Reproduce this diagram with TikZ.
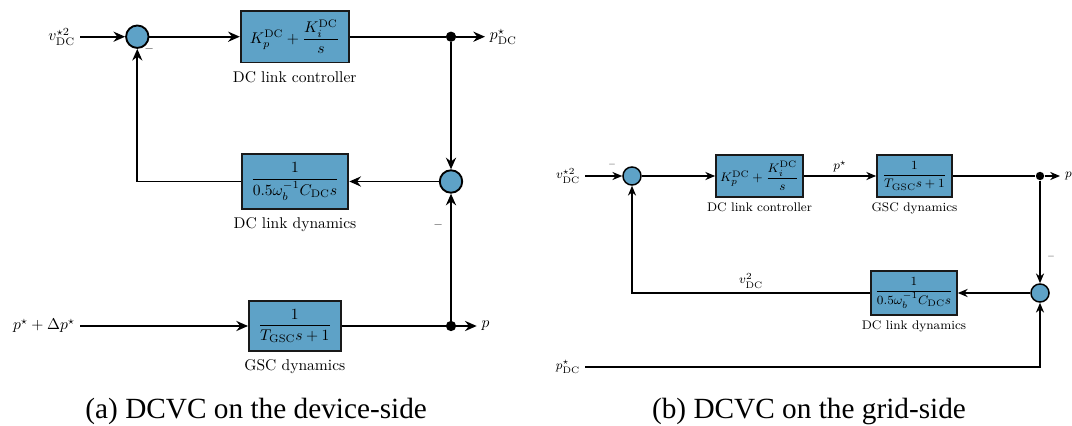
\documentclass[tikz,border=0pt]{standalone}
\usepackage{fontspec}
\usepackage{amsmath}
\newfontfamily\capfont{Liberation Serif}
\usetikzlibrary{arrows.meta}
\definecolor{blkfill}{RGB}{94,162,199}
\definecolor{blkedge}{RGB}{25,25,25}
\begin{document}
\begin{tikzpicture}[x=0.642pt, y=-0.642pt,
  blk/.style={draw=blkedge, fill=blkfill, line width=1.2pt, inner sep=1pt},
  sumc/.style={circle, draw=black, fill=blkfill, line width=1.2pt, inner sep=0pt, minimum size=14.4pt},
  junc/.style={circle, fill=black, inner sep=0pt, minimum size=6.6pt},
  ln/.style={line width=1.25pt},
  sig/.style={ln, -{Stealth[length=7.5pt, width=6.5pt, inset=2.5pt]}},
  lbl/.style={inner sep=3pt, font=\fontsize{10}{12}\selectfont},
  sub/.style={anchor=north, inner sep=0pt, yshift=-4.8pt, font=\fontsize{10}{12}\selectfont},
  mns/.style={text=black!75, inner sep=0pt, font=\scriptsize},
  blkR/.style={blk, line width=1.05pt, font=\footnotesize},
  sumR/.style={sumc, minimum size=11.6pt, line width=0.95pt},
  juncR/.style={junc, minimum size=5.4pt},
  lnR/.style={line width=0.9pt},
  sigR/.style={lnR, -{Stealth[length=6.3pt, width=5.2pt, inset=2pt]}},
  lblR/.style={inner sep=3pt, font=\footnotesize},
  subR/.style={anchor=north, inner sep=0pt, yshift=-2.8pt, font=\footnotesize},
  mnsR/.style={text=black!75, inner sep=0pt, font=\tiny},
  capt/.style={anchor=base, inner sep=0pt, font=\capfont\fontsize{18.8}{22}\selectfont}
]
\useasboundingbox (0,0) rectangle (1072,425);

% ---------------- (a) device-side ----------------
\node[lbl, anchor=east] (vin) at (80,36.7) {$v_{\mathrm{DC}}^{\star 2}$};
\node[sumc] (s1) at (137.3,36.7) {};
\node[blk, minimum width=69.3pt, minimum height=33.1pt] (c1) at (294.7,36.7)
  {$K_p^{\mathrm{DC}}+\dfrac{K_i^{\mathrm{DC}}}{s}$};
\node[sub] (c1l) at (c1.south) {DC link controller};
\node[junc] (d1) at (451,36.7) {};
\node[lbl, anchor=west] (pdc) at (485,36.7) {$p_{\mathrm{DC}}^{\star}$};

\node[sumc] (s2) at (451,181.5) {};
\node[blk, minimum width=68.5pt, minimum height=34.9pt] (g1) at (295,181.5)
  {$\dfrac{1}{0.5\omega_b^{-1}C_{\mathrm{DC}}s}$};
\node[sub] (g1l) at (g1.south) {DC link dynamics};

\node[lbl, anchor=east] (pin) at (80,326) {$p^{\star}+\Delta p^{\star}$};
\node[blk, minimum width=58.9pt, minimum height=32.1pt] (gsc1) at (294.8,326)
  {$\dfrac{1}{T_{\mathrm{GSC}}s+1}$};
\node[sub] (gsc1l) at (gsc1.south) {GSC dynamics};
\node[junc] (d2) at (451,326) {};
\node[lbl, anchor=west] (pout) at (476.7,326) {$p$};

\node[mns] (m1) at (149.3,48.3) {$-$};
\node[mns] (m2) at (438.3,225) {$-$};

\draw[sig] (vin) -- (s1);
\draw[sig] (s1) -- (c1);
\draw[ln] (c1) -- (d1);
\draw[sig] (d1) -- (pdc);
\draw[sig] (d1) -- (s2);
\draw[sig] (s2) -- (g1);
\draw[sig] (g1.west) -| (s1.south);
\draw[sig] (pin) -- (gsc1);
\draw[ln] (gsc1) -- (d2);
\draw[sig] (d2) -- (pout);
\draw[sig] (d2) -- (s2);

\node[capt] (capa) at (256.2,418.3) {(a) DCVC on the device-side};

% ---------------- (b) grid-side ----------------
\node[lblR, anchor=east] (vin2) at (585,176) {$v_{\mathrm{DC}}^{\star 2}$};
\node[sumR] (s3) at (632,176) {};
\node[blkR, minimum width=55.9pt, minimum height=27pt] (c2) at (759.5,176)
  {$K_p^{\mathrm{DC}}+\dfrac{K_i^{\mathrm{DC}}}{s}$};
\node[subR] (c2l) at (c2.south) {DC link controller};
\node[blkR, minimum width=48.2pt, minimum height=27pt] (gsc2) at (914.5,176)
  {$\dfrac{1}{T_{\mathrm{GSC}}s+1}$};
\node[subR] (gsc2l) at (gsc2.south) {GSC dynamics};
\node[juncR] (d3) at (1040,176) {};
\node[lblR, anchor=west] (pout2) at (1060,176) {$p$};

\node[sumR] (s4) at (1040,293) {};
\node[blkR, minimum width=55.2pt, minimum height=28.2pt] (dyn2) at (914,293)
  {$\dfrac{1}{0.5\omega_b^{-1}C_{\mathrm{DC}}s}$};
\node[subR] (dyn2l) at (dyn2.south) {DC link dynamics};

\node[lblR, anchor=east] (pdc2) at (585,367) {$p_{\mathrm{DC}}^{\star}$};

\node[mnsR] (m3) at (612,165) {$-$};
\node[mnsR] (m4) at (1051,257) {$-$};

\draw[sigR] (vin2) -- (s3);
\draw[sigR] (s3) -- (c2);
\draw[sigR] (c2) -- node[above, inner sep=2pt, font=\footnotesize] (pst) {$p^{\star}$} (gsc2);
\draw[lnR] (gsc2) -- (d3);
\draw[sigR] (d3) -- (pout2);
\draw[sigR] (d3) -- (s4);
\draw[sigR] (s4) -- (dyn2);
\draw[sigR] (dyn2.west) -| node[pos=0.25, above, inner sep=2.5pt, font=\footnotesize] (v2) {$v_{\mathrm{DC}}^{2}$} (s3.south);
\draw[sigR] (pdc2) -| (s4.south);

\node[capt] (capb) at (809,418.3) {(b) DCVC on the grid-side};
\end{tikzpicture}
\end{document}
